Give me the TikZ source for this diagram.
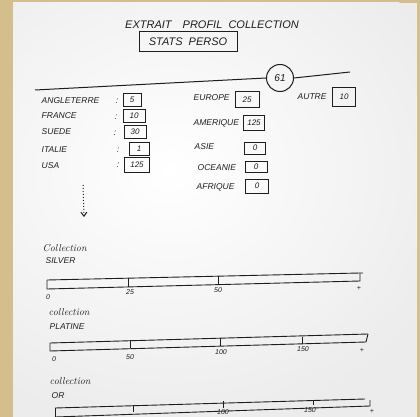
\documentclass[tikz,border=0pt]{standalone}
\usepackage{fontspec}
\setsansfont{Liberation Sans}
\usetikzlibrary{arrows.meta}
\definecolor{tanbg}{RGB}{212,191,140}
\definecolor{paper}{RGB}{236,236,236}
\definecolor{ink}{RGB}{30,30,30}
\begin{document}
\begin{tikzpicture}[x=1pt,y=-1pt,
  hand/.style={font=\sffamily\itshape\fontsize{8.5}{9}\selectfont, text=ink, inner sep=0.5pt},
  cursive/.style={font=\rmfamily\itshape\fontsize{10}{11}\selectfont, text=ink, inner sep=0.5pt},
  title/.style={font=\sffamily\itshape\fontsize{11}{12}\selectfont, text=ink, inner sep=1pt},
  valbox/.style={draw=ink, line width=1pt, font=\sffamily\itshape\fontsize{8}{9}\selectfont, text=ink, inner sep=0pt, minimum width=20, minimum height=13},
  barline/.style={draw=ink, line width=0.9pt},
  tick/.style={draw=ink, line width=0.8pt},
  scale label/.style={font=\sffamily\itshape\fontsize{7}{8}\selectfont, text=ink, inner sep=0.5pt}]
\useasboundingbox (0,0) rectangle (420,417);
\fill[tanbg] (0,0) rectangle (420,417);
\begin{scope}
\clip (13,3) rectangle (417,417);
\fill[paper] (13,3) rectangle (417,417);
\shade[inner color=white, outer color=paper] (170,170) ellipse (300 and 260);
\end{scope}
% title
\node[title] (title) at (212,25) {EXTRAIT\quad PROFIL\ \ COLLECTION};
\node[title, draw=ink, line width=1pt, minimum width=98, minimum height=20] (stats) at (188,42) {STATS\ \ PERSO};
% total line
\node[circle, draw=ink, line width=1pt, minimum size=27, inner sep=0pt, font=\sffamily\itshape\fontsize{10}{11}\selectfont, text=ink] (total) at (280,78) {61};
\coordinate (lineL) at (35,90);
\coordinate (lineR) at (350,72);
\draw[ink, line width=1pt] (lineL) -- (total.west);
\draw[ink, line width=1pt] (total.east) -- (lineR);
% left list
\node[hand, anchor=west] (lAng) at (41,101) {ANGLETERRE};
\node[hand, anchor=west] (lFra) at (41,116) {FRANCE};
\node[hand, anchor=west] (lSue) at (41,132) {SUEDE};
\node[hand, anchor=west] (lIta) at (41,150) {ITALIE};
\node[hand, anchor=west] (lUsa) at (41,166) {USA};
\node[hand] (cAng) at (117,101) {:};
\node[hand] (cFra) at (116,117) {:};
\node[hand] (cSue) at (115,133) {:};
\node[hand] (cIta) at (118,150) {:};
\node[hand] (cUsa) at (118,165) {:};
\node[valbox, minimum width=18] (bAng) at (132,100) {5};
\node[valbox, minimum width=22] (bFra) at (134,116) {10};
\node[valbox, minimum width=22] (bSue) at (135,132) {30};
\node[valbox, minimum width=20] (bIta) at (139,149) {1};
\node[valbox, minimum width=25, minimum height=15] (bUsa) at (137,165) {125};
\coordinate (dotS) at (83,185);
\coordinate (dotE) at (84,217);
\draw[ink, line width=1pt, dotted, -{Straight Barb[length=4pt,width=6pt]}] (dotS) -- (dotE);
% middle list
\node[hand, anchor=west] (lEur) at (193,98) {EUROPE};
\node[valbox, minimum width=24, minimum height=16] (bEur) at (247,100) {25};
\node[hand, anchor=west] (lAme) at (193,123) {AMERIQUE};
\node[valbox, minimum width=21, minimum height=15] (bAme) at (254,123) {125};
\node[hand, anchor=west] (lAsi) at (194,147) {ASIE};
\node[valbox, minimum width=21, minimum height=12] (bAsi) at (255,148) {0};
\node[hand, anchor=west] (lOce) at (197,168) {OCEANIE};
\node[valbox, minimum width=22, minimum height=11] (bOce) at (256,167) {0};
\node[hand, anchor=west] (lAfr) at (196,187) {AFRIQUE};
\node[valbox, minimum width=23, minimum height=14] (bAfr) at (257,186) {0};
\node[hand, anchor=west] (lRov) at (297,97) {AUTRE};
\node[valbox, minimum width=23, minimum height=19] (bRov) at (344,97) {10};
% collection SILVER
\node[cursive, anchor=west] (sCol) at (42,248) {Collection};
\node[hand, anchor=west] (sName) at (45,261) {SILVER};
\draw[barline] (47,280) -- (360,273) -- (363,273);
\draw[barline] (47,280) -- (47,289) -- (360,281) -- (360,273);
\draw[tick] (128,278) -- (128,287);
\draw[tick] (218,276) -- (218,285);
\node[scale label] (s0) at (48,297) {0};
\node[scale label] (s25) at (130,292) {25};
\node[scale label] (s50) at (218,290) {50};
\node[scale label] (sPlus) at (359,288) {+};
% collection PLATINE
\node[cursive, anchor=west] (pCol) at (48,312) {collection};
\node[hand, anchor=west] (pName) at (49,327) {PLATINE};
\draw[barline] (50,343) -- (368,334);
\draw[barline] (50,343) -- (50,351) -- (366,342) -- (368,334);
\draw[tick] (130,340) -- (130,348);
\draw[tick] (220,338) -- (220,346);
\draw[tick] (302,337) -- (302,344);
\node[scale label] (p0) at (54,359) {0};
\node[scale label] (p50) at (130,357) {50};
\node[scale label] (p100) at (221,352) {100};
\node[scale label] (p150) at (303,349) {150};
\node[scale label] (pPlus) at (362,350) {+};
% collection OR
\node[cursive, anchor=west] (oCol) at (49,381) {collection};
\node[hand, anchor=west] (oName) at (51,396) {OR};
\draw[barline] (55,408) -- (365,399);
\draw[barline] (55,408) -- (55,418);
\draw[barline] (55,417) -- (370,406) -- (370,400);
\draw[tick] (133,405) -- (133,412);
\draw[tick] (223,401) -- (223,408);
\draw[tick] (313,400) -- (313,405);
\node[scale label] (o100) at (223,412.5) {100};
\node[scale label] (o150) at (310,410) {150};
\node[scale label] (oPlus) at (372,411.5) {+};
\end{tikzpicture}
\end{document}
